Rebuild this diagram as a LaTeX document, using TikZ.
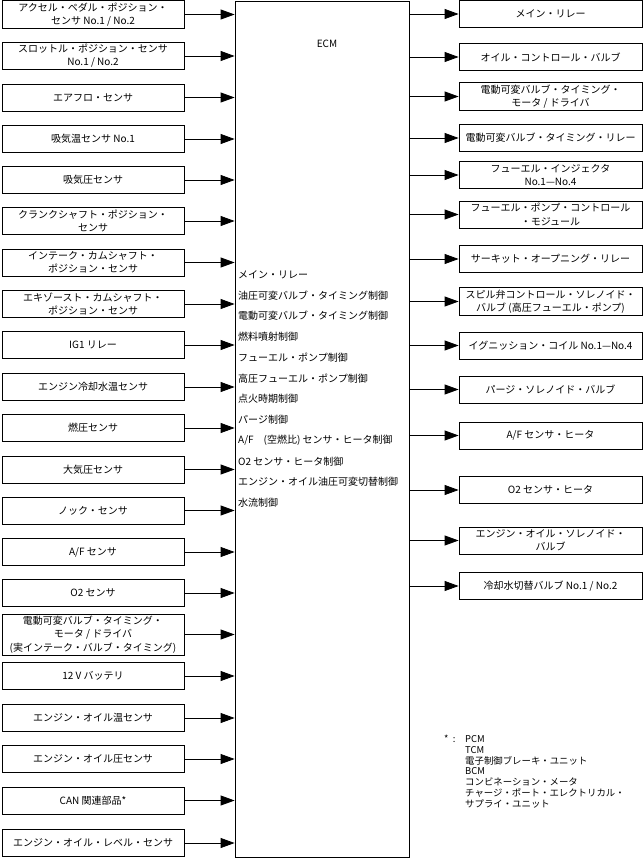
\documentclass[tikz,border=0pt]{standalone}
\usepackage{fontspec}
\setmainfont{Noto Sans CJK JP}
\usetikzlibrary{arrows.meta}

\tikzset{
  blok/.style={draw, line width=0.8pt, minimum width=182pt, minimum height=27pt,
    inner sep=2pt, align=center, font=\fontsize{10}{13.3}\selectfont},
  sipka/.style={line width=0.8pt, -{Triangle[length=14pt,width=10pt]}},
  funkcia/.style={anchor=west, inner sep=0pt, font=\fontsize{10}{12}\selectfont},
  poznamka/.style={anchor=north west, inner sep=0pt, align=left, font=\fontsize{9.4}{10.9}\selectfont},
}

\begin{document}
\begin{tikzpicture}[x=1pt,y=-1pt]
  \useasboundingbox (0,0) rectangle (643,859);

  % ECM blok
  \node[draw, line width=0.8pt, minimum width=174pt, minimum height=856pt] (ecm) at (322,429) {};
  \node[font=\fontsize{10}{12}\selectfont] (ecmnazov) at (327,44) {ECM};

  % funkcie ECM
  \foreach \t [count=\i] in {メイン・リレー, 油圧可変バルブ・タイミング制御, 電動可変バルブ・タイミング制御,
      燃料噴射制御, フューエル・ポンプ制御, 高圧フューエル・ポンプ制御, 点火時期制御, パージ制御,
      A/F　(空燃比) センサ・ヒータ制御, O2 センサ・ヒータ制御, エンジン・オイル油圧可変切替制御, 水流制御}
    \node[funkcia] (fn\i) at (238,{274.5+20.75*(\i-1)}) {\t};

  % vstupy - snimace
  \foreach \y/\t [count=\i] in {14.5/{アクセル・ペダル・ポジション・\\センサ No.1 / No.2},
      56/{スロットル・ポジション・センサ\\No.1 / No.2}, 97.5/{エアフロ・センサ}, 139/{吸気温センサ No.1},
      180/{吸気圧センサ}, 221/{クランクシャフト・ポジション・\\センサ},
      262.5/{インテーク・カムシャフト・\\ポジション・センサ}, 304/{エキゾースト・カムシャフト・\\ポジション・センサ},
      345/{IG1 リレー}, 387/{エンジン冷却水温センサ}, 428/{燃圧センサ}, 469.5/{大気圧センサ},
      510.5/{ノック・センサ}, 552/{A/F センサ}, 593/{O2 センサ},
      634.5/{電動可変バルブ・タイミング・\\モータ / ドライバ\\(実インテーク・バルブ・タイミング)},
      676/{12 V バッテリ}, 718/{エンジン・オイル温センサ}, 759/{エンジン・オイル圧センサ},
      800.5/{CAN 関連部品*}, 843/{エンジン・オイル・レベル・センサ}}
  {
    \node[blok] (in\i) at (93,\y) {\t};
    \draw[sipka] (in\i.east) -- (in\i.east -| ecm.west);
  }

  % vystupy - akcne cleny
  \foreach \y/\t [count=\i] in {14/{メイン・リレー}, 57/{オイル・コントロール・バルブ},
      96.5/{電動可変バルブ・タイミング・\\モータ / ドライバ}, 138/{電動可変バルブ・タイミング・リレー},
      175/{フューエル・インジェクタ\\No.1—No.4}, 214.5/{フューエル・ポンプ・コントロール\\・モジュール},
      259/{サーキット・オープニング・リレー}, 301.5/{スピル弁コントロール・ソレノイド・\\バルブ (高圧フューエル・ポンプ)},
      345.5/{イグニッション・コイル No.1—No.4}, 389.5/{パージ・ソレノイド・バルブ},
      435.5/{A/F センサ・ヒータ}, 490/{O2 センサ・ヒータ},
      540.5/{エンジン・オイル・ソレノイド・\\バルブ}, 586/{冷却水切替バルブ No.1 / No.2}}
  {
    \node[blok, minimum width=183pt] (out\i) at (550.5,\y) {\t};
    \draw[sipka] (out\i.west -| ecm.east) -- (out\i.west);
  }

  % poznamka
  \node[poznamka] (pozn) at (465,735)
    {PCM\\TCM\\電子制御ブレーキ・ユニット\\BCM\\コンビネーション・メータ\\チャージ・ポート・エレクトリカル・\\サプライ・ユニット};
  \node[poznamka] (hviezda) at (444,735) {*\ \ :};

\end{tikzpicture}
\end{document}
